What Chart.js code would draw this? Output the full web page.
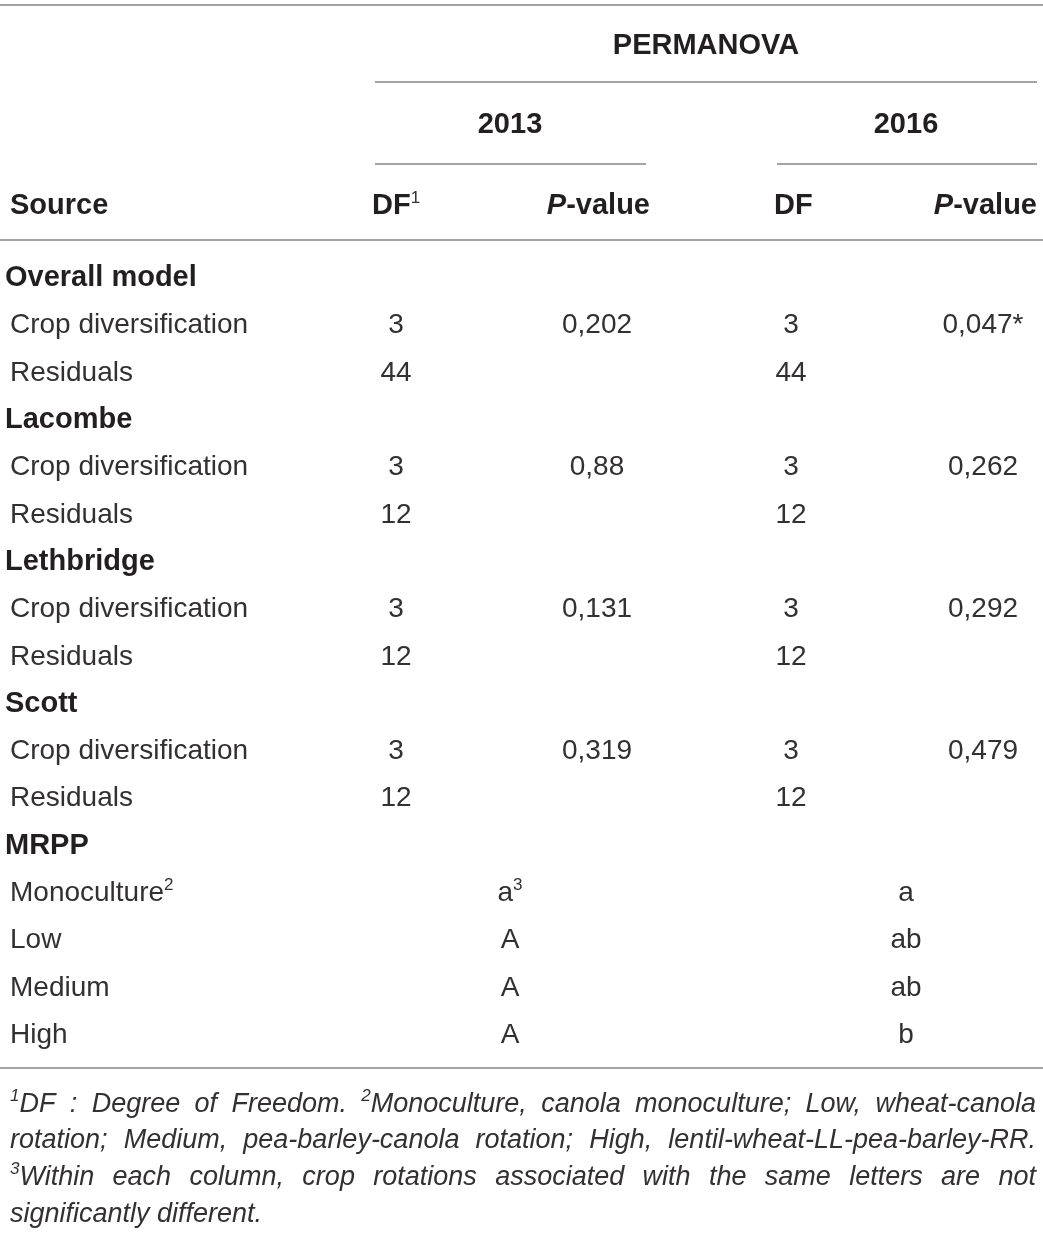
<!DOCTYPE html>
<html lang="en">
<head>
<meta charset="UTF-8">
<title>PERMANOVA / MRPP table</title>
<script src="https://cdn.jsdelivr.net/npm/chart.js"></script>
<style>
  html, body { margin: 0; padding: 0; background: #fff; }
  canvas { display: block; }
</style>
</head>
<body>
<canvas id="tableChart" width="1043" height="1234"></canvas>
<script>
  // Table content
  const years = ['2013', '2016'];
  const sites = ['Overall model', 'Lacombe', 'Lethbridge', 'Scott'];
  const terms = ['Crop diversification', 'Residuals'];
  const cropDf2013 = [3, 3, 3, 3];
  const residDf2013 = [44, 12, 12, 12];
  const cropDf2016 = [3, 3, 3, 3];
  const residDf2016 = [44, 12, 12, 12];
  const pValue2013 = [0.202, 0.88, 0.131, 0.319];
  const pValue2016 = [0.047, 0.262, 0.292, 0.479];
  const rotations = ['Monoculture', 'Low', 'Medium', 'High'];
  const mrpp2013 = ['a', 'A', 'A', 'A'];
  const mrpp2016 = ['a', 'ab', 'ab', 'b'];
  const footnoteLines = [
    '^1DF : Degree of Freedom. ^2Monoculture, canola monoculture; Low, wheat-canola',
    'rotation; Medium, pea-barley-canola rotation; High, lentil-wheat-LL-pea-barley-RR.',
    '^3Within each column, crop rotations associated with the same letters are not',
    'significantly different.'
  ];

  // layout (scale units match the canvas pixels)
  const FONT = '"Liberation Sans", Arial, Helvetica, sans-serif';
  const INK = '#231f20';
  const INK_LIGHT = '#333031';
  const RULE = '#a3a3a3';
  const ROW0 = 276, ROWH = 47.31;
  const rowY = r => ROW0 + r * ROWH;
  const colDf = [396, 791];
  const colP = [597, 983];
  const colYear = [510, 906];
  const cropDf = [cropDf2013, cropDf2016];
  const residDf = [residDf2013, residDf2016];
  const pValues = [pValue2013, pValue2016];
  const mrpp = [mrpp2013, mrpp2016];

  const fmtP = p => String(p).replace('.', ',');

  // header cells
  const headerCells = [
    { x: 706, y: 44, align: 'center', runs: [{ t: 'PERMANOVA', bold: true }] },
    { x: 10, y: 204, align: 'left', runs: [{ t: 'Source', bold: true }] },
    { x: 372, y: 204, align: 'left', runs: [{ t: 'DF', bold: true }, { t: '1', sup: true }] },
    { x: 774, y: 204, align: 'left', runs: [{ t: 'DF', bold: true }] }
  ];
  years.forEach((yr, k) => {
    headerCells.push({ x: colYear[k], y: 123, align: 'center', runs: [{ t: yr, bold: true }] });
  });
  [650, 1037].forEach(x => {
    headerCells.push({ x, y: 204, align: 'right', runs: [{ t: 'P', bold: true, italic: true }, { t: '-value', bold: true }] });
  });

  // row label cells
  const labelCells = [];
  sites.forEach((s, i) => {
    labelCells.push({ x: 5, y: rowY(3 * i), align: 'left', runs: [{ t: s, bold: true }] });
    terms.forEach((t, k) => labelCells.push({ x: 10, y: rowY(3 * i + 1 + k), align: 'left', runs: [{ t }] }));
  });
  labelCells.push({ x: 5, y: rowY(12), align: 'left', runs: [{ t: 'MRPP', bold: true }] });
  rotations.forEach((r, i) => {
    const runs = [{ t: r }];
    if (i === 0) runs.push({ t: '2', sup: true });
    labelCells.push({ x: 10, y: rowY(13 + i), align: 'left', runs });
  });

  // value cells per year
  const valueSets = years.map((yr, k) => {
    const cells = [];
    sites.forEach((s, i) => {
      cells.push({ x: colDf[k], y: rowY(3 * i + 1), align: 'center', runs: [{ t: String(cropDf[k][i]) }] });
      cells.push({ x: colDf[k], y: rowY(3 * i + 2), align: 'center', runs: [{ t: String(residDf[k][i]) }] });
      const p = pValues[k][i];
      const runs = [{ t: fmtP(p) }];
      if (p < 0.05) runs.push({ t: '*' });
      cells.push({ x: colP[k], y: rowY(3 * i + 1), align: 'center', runs });
    });
    mrpp[k].forEach((letter, i) => {
      const runs = [{ t: letter }];
      if (k === 0 && i === 0) runs.push({ t: '3', sup: true });
      cells.push({ x: colYear[k], y: rowY(13 + i), align: 'center', runs });
    });
    return cells;
  });

  function fontFor(run, size) {
    let s = run.bold ? size + 1 : size;
    if (run.sup) s = Math.round(size * 0.62);
    return (run.italic ? 'italic ' : '') + (run.bold ? 'bold ' : '') + s + 'px ' + FONT;
  }

  function drawRuns(ctx, x, yc, runs, align, size, italicAll) {
    const rs = runs.map(r => Object.assign({ italic: italicAll }, r));
    const widths = rs.map(r => { ctx.font = fontFor(r, size); return ctx.measureText(r.t).width; });
    const total = widths.reduce((a, b) => a + b, 0);
    let cx = align === 'center' ? x - total / 2 : align === 'right' ? x - total : x;
    const base = yc + size * 0.36;
    rs.forEach((r, i) => {
      ctx.font = fontFor(r, size);
      ctx.fillStyle = r.bold ? INK : INK_LIGHT;
      ctx.fillText(r.t, cx, r.sup ? base - size * 0.4 : base);
      cx += widths[i];
    });
  }

  function splitWord(w) {
    if (w.startsWith('^')) return [{ t: w[1], sup: true }, { t: w.slice(2) }];
    return [{ t: w }];
  }

  const tablePlugin = {
    id: 'tableText',
    beforeDatasetsDraw(chart) {
      const { ctx, scales: { x, y } } = chart;
      const hline = (x0, x1, yy) => {
        ctx.beginPath();
        ctx.moveTo(x.getPixelForValue(x0), y.getPixelForValue(yy));
        ctx.lineTo(x.getPixelForValue(x1), y.getPixelForValue(yy));
        ctx.stroke();
      };
      ctx.save();
      ctx.strokeStyle = RULE;
      ctx.lineWidth = 2;
      hline(0, 1043, 5);
      hline(375, 1037, 82);
      hline(375, 646, 164);
      hline(777, 1037, 164);
      hline(0, 1043, 240);
      hline(0, 1043, 1068);
      ctx.restore();
    },
    afterDatasetsDraw(chart) {
      const { ctx, scales: { x, y } } = chart;
      ctx.save();
      ctx.textBaseline = 'alphabetic';
      ctx.textAlign = 'left';
      chart.data.datasets.forEach((ds, di) => {
        const meta = chart.getDatasetMeta(di);
        meta.data.forEach((pt, j) => {
          const cell = ds.data[j];
          drawRuns(ctx, pt.x, pt.y, cell.runs, cell.align, ds.fontSize, false);
        });
      });

      // footnotes, justified except the last line
      const size = 27;
      const left = x.getPixelForValue(10), right = x.getPixelForValue(1036);
      footnoteLines.forEach((line, li) => {
        const words = line.split(' ').map(splitWord);
        const widths = words.map(ws => ws.reduce((acc, r) => {
          ctx.font = fontFor(Object.assign({ italic: true }, r), size);
          return acc + ctx.measureText(r.t).width;
        }, 0));
        const total = widths.reduce((a, b) => a + b, 0);
        ctx.font = 'italic ' + size + 'px ' + FONT;
        const space = ctx.measureText(' ').width;
        const last = li === footnoteLines.length - 1;
        const gap = last ? space : Math.max(space * 0.6, (right - left - total) / (words.length - 1));
        let cx = left;
        const yc = y.getPixelForValue(1102 + li * 36.7);
        words.forEach((ws, wi) => {
          drawRuns(ctx, cx, yc, ws, 'left', size, true);
          cx += widths[wi] + gap;
        });
      });
      ctx.restore();
    }
  };

  const cellDataset = (label, cells, fontSize) => ({
    label,
    data: cells,
    fontSize,
    pointRadius: 0,
    pointHoverRadius: 0,
    showLine: false
  });

  const config = {
    type: 'scatter',
    data: {
      datasets: [
        cellDataset('header', headerCells, 28),
        cellDataset('labels', labelCells, 28),
        cellDataset(years[0], valueSets[0], 28),
        cellDataset(years[1], valueSets[1], 28)
      ]
    },
    options: {
      responsive: false,
      animation: false,
      events: [],
      layout: { padding: 0 },
      scales: {
        x: { type: 'linear', min: 0, max: 1043, display: false },
        y: { type: 'linear', min: 0, max: 1234, reverse: true, display: false }
      },
      plugins: {
        legend: { display: false },
        tooltip: { enabled: false },
        title: { display: false }
      }
    },
    plugins: [tablePlugin]
  };

  const tableChart = new Chart(document.getElementById('tableChart'), config);
</script>
</body>
</html>
